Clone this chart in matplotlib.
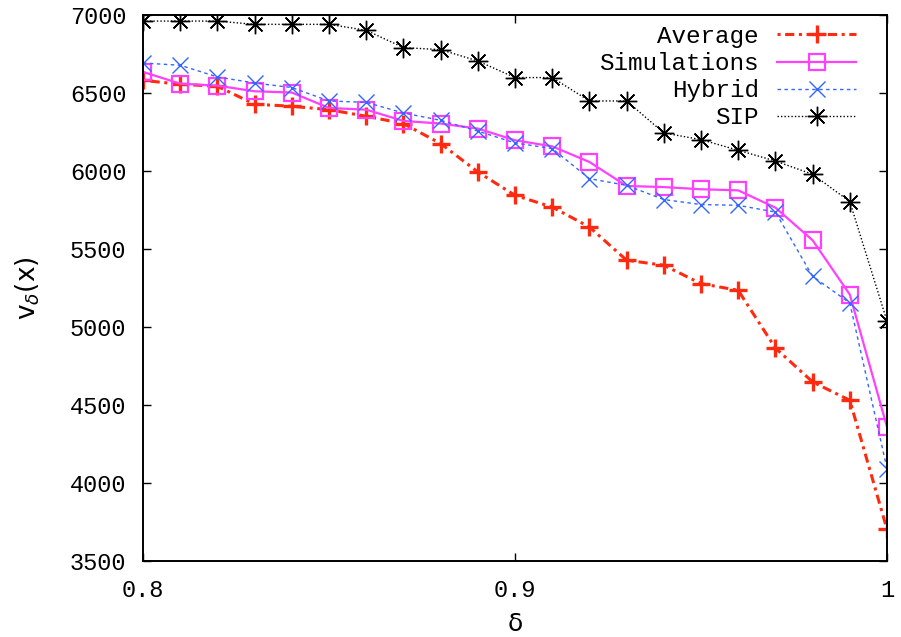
import matplotlib
matplotlib.use("Agg")
import matplotlib.pyplot as plt

delta = [0.80, 0.81, 0.82, 0.83, 0.84, 0.85, 0.86, 0.87, 0.88, 0.89, 0.90,
         0.91, 0.92, 0.93, 0.94, 0.95, 0.96, 0.97, 0.98, 0.99, 1.00]
average = [6581, 6556, 6543, 6428, 6415, 6393, 6351, 6304, 6176, 5994, 5844,
           5769, 5641, 5428, 5396, 5278, 5235, 4865, 4648, 4530, 3703]
simulations = [6635, 6560, 6547, 6511, 6503, 6404, 6393, 6321, 6304, 6272, 6197,
               6158, 6058, 5904, 5897, 5883, 5876, 5765, 5556, 5208, 4359]
hybrid = [6692, 6678, 6603, 6564, 6535, 6449, 6440, 6372, 6325, 6256, 6180,
          6144, 5951, 5908, 5817, 5785, 5780, 5737, 5325, 5154, 4092]
sip = [6961, 6961, 6961, 6940, 6940, 6940, 6902, 6791, 6778, 6705, 6599,
       6599, 6449, 6449, 6244, 6201, 6133, 6064, 5979, 5804, 5038]

xticks = [0.8, 0.9, 1.0]
xticklabels = ["0.8", "0.9", "1"]
yticks = [3500, 4000, 4500, 5000, 5500, 6000, 6500, 7000]

mono = "Liberation Mono"
plt.rcParams['font.family'] = [mono, 'DejaVu Sans']

W, H = 901, 637
fig = plt.figure(figsize=(W / 100, H / 100), dpi=100)
ax = fig.add_axes([143/W, 1 - 561/H, (887-143)/W, (561-15)/H])

ax.plot(delta, average, color='#ff2a10', lw=2.2, ls=(0, (1.0, 1.5, 3.0, 1.5)),
        marker='+', ms=13, mew=2.4, label='Average')
ax.plot(delta, simulations, color='#ff40ff', lw=1.6, ls='-',
        marker='s', ms=12, mew=1.6, mfc='none', label='Simulations')
ax.plot(delta, hybrid, color='#3366ff', lw=1.0, ls=(0, (2.5, 2.5)),
        marker='x', ms=11.5, mew=1.0, label='Hybrid')
ax.plot(delta, sip, color='black', lw=1.0, ls=(0, (1, 1.5)),
        marker=(8, 2, 0), ms=14, mew=1.0, label='SIP')

ax.set_xlim(0.8, 1.0)
ax.set_ylim(3500, 7000)
ax.set_xticks(xticks)
ax.set_xticklabels(xticklabels)
ax.set_yticks(yticks)
ax.tick_params(direction='in', length=6, width=1, top=True, right=True,
               labelsize=17)
ax.tick_params(axis='x', pad=13)
ax.tick_params(axis='y', pad=12)
for s in ax.spines.values():
    s.set_linewidth(1.4)

ax.set_xlabel('δ', fontsize=18, labelpad=7, family='DejaVu Sans')
ax.set_ylabel(r'v$_\delta$(x)', fontsize=19, labelpad=20, family='DejaVu Sans')

leg = ax.legend(loc='upper right', frameon=False, markerfirst=False,
                fontsize=17.5, handlelength=3.25, handletextpad=0.75,
                labelspacing=0.17, borderaxespad=0, borderpad=0,
                bbox_to_anchor=(856/W, 1 - 25/H), bbox_transform=fig.transFigure)

fig.savefig('out.png', dpi=100)
